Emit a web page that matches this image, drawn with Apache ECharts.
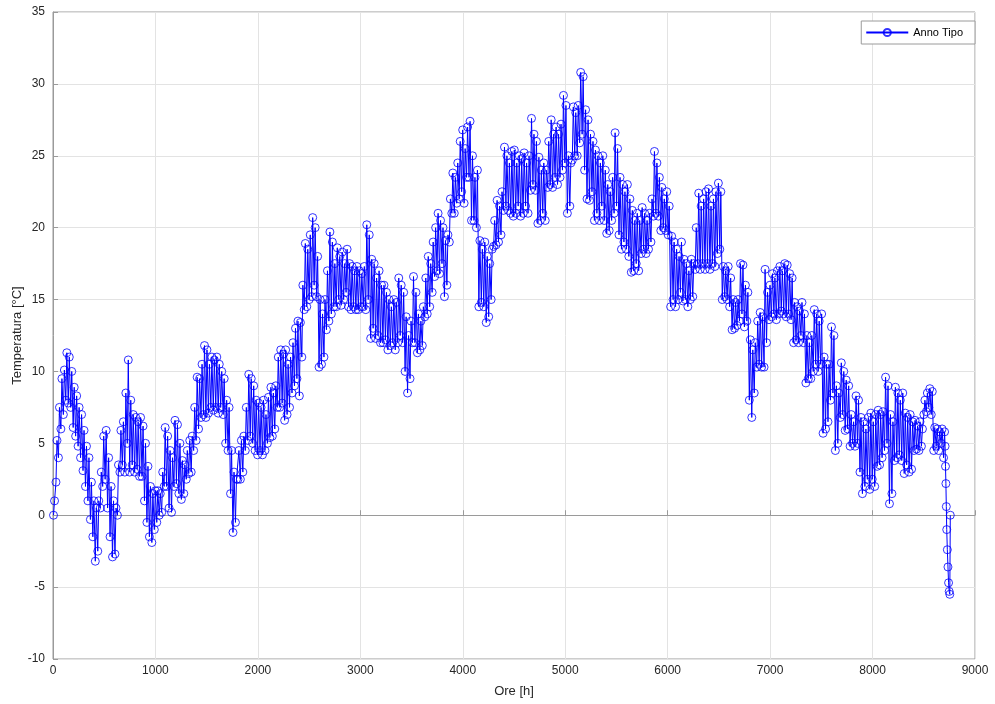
<!DOCTYPE html>
<html>
<head>
<meta charset="utf-8">
<script src="https://cdn.jsdelivr.net/npm/echarts@6/dist/echarts.min.js"></script>
<style>html,body{margin:0;padding:0;background:#fff}#c{width:995px;height:704px}</style>
</head>
<body>
<div id="c"></div>
<script>
const dailyMax = [
1.0,5.2,7.5,9.5,10.1,11.3,11.0,10.0,8.9,8.3,
7.5,7.0,5.9,4.8,4.0,2.3,1.0,0.5,1.0,3.0,
5.5,5.9,4.0,2.0,1.0,0.5,3.5,5.9,6.5,8.5,
10.8,8.0,7.0,6.8,6.5,6.8,6.2,5.0,3.4,2.0,
1.5,1.7,1.7,1.5,3.0,6.1,5.5,4.5,4.0,6.6,
6.3,5.0,3.8,3.5,4.5,5.2,5.5,7.5,9.6,9.5,
10.5,11.8,11.5,10.5,11.0,10.8,11.0,10.5,10.0,9.5,
8.0,7.5,4.5,3.0,2.5,4.5,5.2,5.5,7.5,9.8,
9.5,9.0,8.0,7.8,7.5,8.0,7.0,8.2,8.9,8.5,
9.0,11.0,11.5,11.2,11.5,10.5,11.0,12.0,13.0,13.5,
13.4,16.0,18.9,18.5,19.5,20.7,20.0,18.0,15.0,14.0,
15.0,17.0,19.7,19.0,17.5,18.6,18.0,18.3,17.5,18.5,
17.5,17.3,17.0,17.3,17.0,16.8,17.3,20.2,19.5,17.8,
17.5,16.5,17.0,16.0,16.0,15.5,15.0,14.5,15.0,14.8,
16.5,16.0,15.5,13.8,12.5,13.5,16.6,15.5,14.0,13.5,
14.5,16.5,18.0,17.5,19.0,20.0,21.0,20.5,20.0,19.1,
19.5,22.0,23.8,23.5,24.5,26.0,26.8,25.5,27.0,27.4,
25.0,23.5,24.0,19.1,18.5,19.0,18.0,17.5,18.5,20.5,
21.9,21.5,22.5,25.6,25.0,24.5,25.3,25.4,24.5,25.0,
24.8,25.2,24.5,25.0,27.6,26.5,26.0,24.9,24.0,24.5,
24.0,26.0,27.5,26.5,27.0,26.5,27.2,29.2,28.5,25.0,
24.5,28.4,28.0,28.5,30.8,30.5,28.2,27.5,26.5,26.0,
25.4,25.0,24.5,25.0,24.0,23.0,22.5,23.5,26.6,25.5,
23.5,23.0,22.5,23.0,22.0,21.2,20.5,21.0,20.5,21.4,
21.0,20.5,21.0,22.0,25.3,24.5,23.5,22.8,22.0,22.5,
21.5,19.4,19.0,18.5,18.0,19.0,17.8,17.5,17.0,17.8,
17.5,20.0,22.4,21.5,22.0,22.5,22.7,21.5,22.0,22.5,
23.1,22.5,17.3,17.0,17.3,16.5,15.0,14.8,15.0,17.5,
17.4,16.0,15.5,12.2,11.5,12.0,13.5,14.1,13.8,17.1,
15.5,16.0,16.8,16.5,17.0,17.3,17.0,17.5,17.4,16.8,
16.5,14.8,14.5,14.2,14.8,14.0,12.5,12.0,12.5,14.3,
14.0,13.5,14.0,11.0,10.5,10.5,13.1,12.5,9.0,8.5,
10.6,10.0,9.4,9.0,7.0,6.5,8.3,8.0,6.8,6.5,
6.0,6.8,7.1,6.5,7.0,7.3,7.0,7.2,9.6,9.0,
7.0,6.5,8.9,8.5,8.0,8.5,7.1,6.8,7.0,6.5,
6.6,6.2,6.5,6.0,8.0,8.5,8.8,8.6,6.1,6.0,
5.8,6.0,5.8
];
const dailyMin = [
0.0,2.3,4.0,6.0,7.0,8.0,7.8,7.5,6.1,5.5,
4.8,4.0,3.1,2.0,1.0,-0.3,-1.5,-3.2,-2.5,0.5,
2.0,2.5,0.5,-1.5,-2.9,-2.7,0.0,3.0,3.5,3.0,
5.0,3.0,3.5,3.0,3.2,2.7,2.7,1.0,-0.5,-1.5,
-1.9,-1.0,-0.5,0.0,0.2,2.0,2.0,0.5,0.2,2.0,
2.2,1.5,1.1,1.5,2.5,2.9,3.0,4.5,5.2,6.0,
6.8,7.0,6.8,7.1,7.5,7.3,7.5,7.1,7.5,7.0,
5.0,4.5,1.5,-1.2,-0.5,2.5,2.5,3.0,4.5,5.2,
5.5,5.0,4.5,4.2,4.5,4.2,4.5,5.0,5.4,5.5,
6.0,7.5,7.5,7.8,6.6,7.0,7.5,8.5,9.0,9.5,
8.3,11.0,14.3,14.5,15.0,15.2,16.0,15.2,10.3,10.5,
11.0,12.9,13.5,14.0,14.5,14.5,15.0,14.6,15.0,15.5,
14.5,14.3,14.5,14.3,14.3,14.5,14.5,14.3,15.0,12.3,
13.0,12.3,12.5,12.0,12.0,12.2,11.5,11.8,12.0,11.5,
12.0,12.5,12.0,10.0,8.5,9.5,12.0,12.0,11.3,11.5,
11.8,13.8,14.0,14.5,15.5,16.6,17.0,16.8,17.5,15.2,
16.0,19.0,21.0,21.0,21.7,22.0,22.5,21.7,23.5,23.5,
20.5,20.5,20.0,14.5,14.8,14.5,13.4,13.8,15.0,18.7,
18.8,19.0,19.5,21.2,21.5,21.2,21.0,20.8,21.0,21.5,
20.8,21.0,21.5,21.0,22.6,23.0,22.6,20.3,20.5,21.0,
20.5,22.8,23.0,22.8,23.5,23.0,23.5,24.0,24.5,21.0,
21.5,24.7,25.0,25.0,25.9,26.5,24.0,22.0,21.9,22.5,
20.5,21.0,20.5,21.5,20.5,19.6,19.8,20.5,21.0,21.5,
19.5,18.5,19.0,18.5,18.0,16.9,17.0,17.5,17.0,18.2,
18.5,18.2,18.5,19.0,20.8,21.0,20.8,19.8,20.0,19.8,
19.5,14.5,15.0,14.5,15.0,15.5,14.9,15.0,14.5,15.0,
15.2,17.1,17.5,17.1,17.5,17.1,17.5,17.1,17.5,17.3,
18.2,18.5,15.0,15.2,15.0,14.5,12.9,13.0,13.2,13.5,
14.0,13.1,13.5,8.0,6.8,8.5,10.3,10.5,10.3,10.3,
12.0,13.6,13.8,14.0,13.6,14.0,14.2,14.0,13.8,14.0,
13.6,12.0,12.2,12.0,12.5,12.0,9.2,9.5,9.5,10.0,
10.5,10.0,10.5,5.7,6.0,6.5,8.0,8.5,4.5,5.0,
6.8,7.0,5.9,6.0,4.8,5.0,4.8,5.0,3.0,1.5,
2.0,2.5,1.8,2.5,2.0,3.4,3.5,4.0,4.5,5.0,
0.8,1.5,3.8,4.0,4.2,3.8,2.9,3.5,3.0,3.2,
4.5,4.6,4.5,4.8,7.0,7.2,7.5,7.0,4.5,4.8,
4.5,5.0,4.0
];
const minHourOfDay = 5;
const maxHourOfDay = 15;
// Final hours of the year, read individually
const tailHours = [8708,8712,8716,8720,8724,8730,8736,8742,8748,8754,8759];
const tailTemps = [4.8,3.4,2.2,0.6,-1.0,-2.4,-3.6,-4.7,-5.3,-5.5,0.0];

const xTicks = [0,1000,2000,3000,4000,5000,6000,7000,8000,9000];
const yTicks = [-10,-5,0,5,10,15,20,25,30,35];
const seriesName = 'Anno Tipo';
const xName = 'Ore [h]';
const yName = 'Temperatura [°C]';

const data = [];
dailyMin.forEach((v, d) => {
  data.push([d * 24 + minHourOfDay, v]);
  data.push([d * 24 + maxHourOfDay, dailyMax[d]]);
});
tailHours.forEach((h, i) => data.push([h, tailTemps[i]]));

const chart = echarts.init(document.getElementById('c'), null, {renderer: 'canvas'});
const axisCol = '#262626';
const font = 'Liberation Sans, Arial, sans-serif';
chart.setOption({
  animation: false,
  backgroundColor: '#ffffff',
  textStyle: {fontFamily: font},
  grid: {left: 53, right: 20, top: 12, bottom: 45, outerBoundsMode: 'none', containLabel: false,
         show: true, borderColor: '#9a9a9a', borderWidth: 1},
  legend: {
    right: 20, top: 21,
    data: [seriesName],
    backgroundColor: '#fff',
    borderColor: '#9a9a9a', borderWidth: 1,
    borderRadius: 0,
    padding: [6, 12, 6, 4],
    itemWidth: 42, itemHeight: 9, itemGap: 5,
    textStyle: {fontSize: 11, color: '#000', fontFamily: font}
  },
  xAxis: {
    type: 'value',
    min: xTicks[0], max: xTicks[xTicks.length - 1], interval: 1000,
    name: xName, nameLocation: 'middle', nameGap: 26, nameMoveOverlap: false,
    nameTextStyle: {fontSize: 13, color: axisCol},
    axisLine: {show: true, lineStyle: {color: '#9a9a9a'}},
    axisTick: {show: true, inside: true, length: 5, lineStyle: {color: '#9a9a9a'}},
    axisLabel: {fontSize: 12, color: axisCol, margin: 6, formatter: v => String(v)},
    splitLine: {show: true, lineStyle: {color: '#e3e3e3', width: 1}}
  },
  yAxis: {
    type: 'value',
    min: yTicks[0], max: yTicks[yTicks.length - 1], interval: 5,
    name: yName, nameLocation: 'middle', nameGap: 29, nameRotate: 90, nameMoveOverlap: false,
    nameTextStyle: {fontSize: 13, color: axisCol},
    axisLine: {show: true, lineStyle: {color: '#9a9a9a'}},
    axisTick: {show: true, inside: true, length: 5, lineStyle: {color: '#9a9a9a'}},
    axisLabel: {fontSize: 12, color: axisCol, margin: 8, formatter: v => String(v)},
    splitLine: {show: true, lineStyle: {color: '#e3e3e3', width: 1}}
  },
  series: [{
    name: seriesName,
    type: 'line',
    data: data,
    symbol: 'circle',
    symbolSize: 8,
    showSymbol: true,
    showAllSymbol: true,
    sampling: null,
    itemStyle: {color: 'rgba(255,255,255,0)', borderColor: 'rgba(0,0,255,0.8)', borderWidth: 1},
    lineStyle: {color: '#0000ff', width: 1},
    emphasis: {disabled: true}
  }]
});
</script>
</body>
</html>
